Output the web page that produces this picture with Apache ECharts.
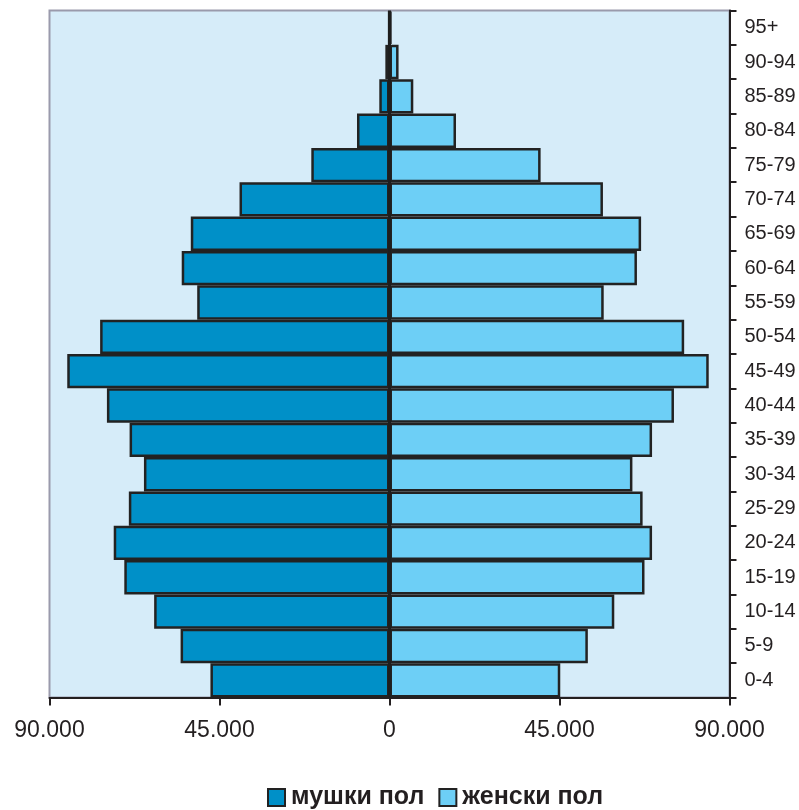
<!DOCTYPE html>
<html>
<head>
<meta charset="utf-8">
<script src="https://cdn.jsdelivr.net/npm/echarts@6/dist/echarts.min.js"></script>
<style>
  html, body { margin: 0; padding: 0; background: #ffffff; }
  #chart { width: 799px; height: 810px; }
</style>
</head>
<body>
<div id="chart"></div>
<script>
// Age groups, from youngest (bottom) to oldest (top)
const ageGroups = ['0-4', '5-9', '10-14', '15-19', '20-24', '25-29', '30-34', '35-39', '40-44', '45-49',
  '50-54', '55-59', '60-64', '65-69', '70-74', '75-79', '80-84', '85-89', '90-94', '95+'];

// Population by age group
const male = [47400, 55300, 62300, 70200, 73000, 69000, 65000, 68800, 74800, 85300,
  76600, 50900, 55000, 52600, 39700, 20700, 8600, 2700, 1100, 200];
const female = [45200, 52500, 59500, 67500, 69500, 67000, 64300, 69500, 75300, 84500,
  78000, 56700, 65500, 66600, 56500, 40000, 17600, 6300, 2400, 500];

const seriesNames = ['мушки пол', 'женски пол'];
const xTicks = { min: -90000, max: 90000, step: 45000 };

const font = 'Liberation Sans, Arial, sans-serif';
const ink = '#231f20';

function formatThousands(v) {
  const a = Math.abs(v);
  return String(a).replace(/\B(?=(\d{3})+(?!\d))/g, '.');
}

const chart = echarts.init(document.getElementById('chart'), null, { renderer: 'canvas' });

chart.setOption({
  animation: false,
  backgroundColor: '#ffffff',
  grid: {
    left: 49.5, right: 69.5, top: 10.5, bottom: 112.5,
    show: true,
    backgroundColor: '#d6ecf9',
    borderColor: '#9a9aac',
    borderWidth: 2
  },
  legend: {
    left: 262, top: 780,
    itemWidth: 17, itemHeight: 17, itemGap: 14,
    icon: 'rect',
    data: seriesNames,
    textStyle: { fontFamily: font, fontWeight: 'bold', fontSize: 25, color: ink, padding: [0, 0, 0, 1] }
  },
  xAxis: {
    type: 'value',
    min: xTicks.min, max: xTicks.max, interval: xTicks.step,
    axisLine: { show: true, onZero: false, lineStyle: { color: ink, width: 2 } },
    axisTick: { show: true, length: 8, lineStyle: { color: ink, width: 2 } },
    splitLine: { show: false },
    axisLabel: { fontFamily: font, fontSize: 23, color: ink, margin: 22, formatter: formatThousands }
  },
  yAxis: {
    type: 'category',
    position: 'right',
    data: ageGroups,
    axisLine: { show: true, onZero: false, lineStyle: { color: ink, width: 2 } },
    axisTick: { show: true, length: 7, interval: 0, lineStyle: { color: ink, width: 2 } },
    axisLabel: { fontFamily: font, fontSize: 20, color: ink, margin: 15, interval: 0 }
  },
  series: [
    {
      name: seriesNames[0],
      type: 'bar',
      data: male.map(v => -v),
      barGap: '-100%',
      barCategoryGap: 0,
      itemStyle: { color: '#0090c8', borderColor: '#222222', borderWidth: 2.5 },
      markLine: {
        silent: true,
        symbol: 'none',
        label: { show: false },
        lineStyle: { color: '#1e1e1e', width: 3, type: 'solid' },
        data: [{ xAxis: 0 }]
      },
      z: 2
    },
    {
      name: seriesNames[1],
      type: 'bar',
      data: female,
      barGap: '-100%',
      barCategoryGap: 0,
      itemStyle: { color: '#6dcff6', borderColor: '#222222', borderWidth: 2.5 },
      z: 2
    }
  ]
});
</script>
</body>
</html>
